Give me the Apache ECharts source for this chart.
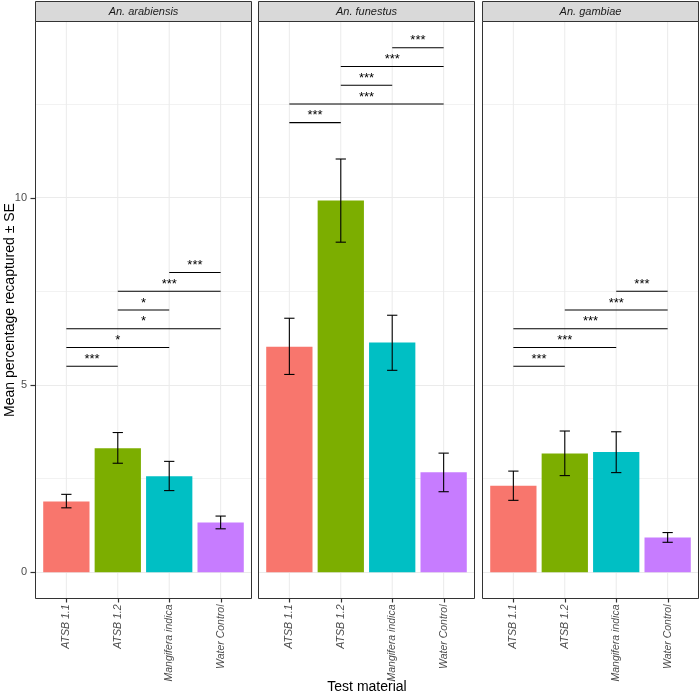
<!DOCTYPE html>
<html>
<head>
<meta charset="utf-8">
<script src="https://cdn.jsdelivr.net/npm/echarts@6/dist/echarts.min.js"></script>
<style>html,body{margin:0;padding:0;background:#fff}#c{width:700px;height:696px}</style>
</head>
<body>
<div id="c"></div>
<script>
// ---- data ----
const categories = ['ATSB 1.1', 'ATSB 1.2', 'Mangifera indica', 'Water Control'];
const species = ['An. arabiensis', 'An. funestus', 'An. gambiae'];
const barColors = ['#F8766D', '#7CAE00', '#00BFC4', '#C77CFF'];

const meanArabiensis = [1.89, 3.31, 2.56, 1.33];
const lowArabiensis  = [1.72, 2.91, 2.18, 1.16];
const highArabiensis = [2.08, 3.73, 2.96, 1.50];

const meanFunestus = [6.02, 9.92, 6.13, 2.67];
const lowFunestus  = [5.28, 8.81, 5.39, 2.15];
const highFunestus = [6.78, 11.03, 6.86, 3.18];

const meanGambiae = [2.31, 3.17, 3.21, 0.93];
const lowGambiae  = [1.92, 2.58, 2.66, 0.80];
const highGambiae = [2.70, 3.77, 3.75, 1.06];

// significance brackets: from category index, to category index, height, label
const sigArabiensisFrom  = [0, 0, 0, 1, 1, 2];
const sigArabiensisTo    = [1, 2, 3, 2, 3, 3];
const sigArabiensisY     = [5.5, 6.0, 6.5, 7.0, 7.5, 8.0];
const sigArabiensisLabel = ['***', '*', '*', '*', '***', '***'];

const sigFunestusFrom  = [0, 0, 1, 1, 2];
const sigFunestusTo    = [1, 3, 2, 3, 3];
const sigFunestusY     = [12.0, 12.5, 13.0, 13.5, 14.0];
const sigFunestusLabel = ['***', '***', '***', '***', '***'];

const sigGambiaeFrom  = [0, 0, 0, 1, 2];
const sigGambiaeTo    = [1, 2, 3, 3, 3];
const sigGambiaeY     = [5.5, 6.0, 6.5, 7.0, 7.5];
const sigGambiaeLabel = ['***', '***', '***', '***', '***'];

const yTickValues = [0, 5, 10];
const yMin = -0.7, yMax = 14.7;

// ---- layout ----
const FONT = '"Liberation Sans", Arial, Helvetica, sans-serif';
const PL = [35.5, 258.5, 482.5];
const PW = 216, TOP = 21.5, PH = 577;
const INSET = PW * 0.1 / 4.2;

const panels = [
  {mean: meanArabiensis, low: lowArabiensis, high: highArabiensis,
   from: sigArabiensisFrom, to: sigArabiensisTo, y: sigArabiensisY, lab: sigArabiensisLabel},
  {mean: meanFunestus, low: lowFunestus, high: highFunestus,
   from: sigFunestusFrom, to: sigFunestusTo, y: sigFunestusY, lab: sigFunestusLabel},
  {mean: meanGambiae, low: lowGambiae, high: highGambiae,
   from: sigGambiaeFrom, to: sigGambiaeTo, y: sigGambiaeY, lab: sigGambiaeLabel}
];

const grid = [], xAxis = [], yAxis = [], series = [], graphic = [];

panels.forEach((p, i) => {
  const bg = 2 * i, dg = 2 * i + 1;
  grid.push({left: PL[i], top: TOP, width: PW, height: PH, show: true,
             backgroundColor: '#ffffff', borderWidth: 0});
  grid.push({left: PL[i] + INSET, top: TOP, width: PW - 2 * INSET, height: PH});

  xAxis.push({gridIndex: bg, type: 'value', min: -0.6, max: 3.6, show: false,
    axisLine: {onZero: false}});
  xAxis.push({gridIndex: dg, type: 'category', data: categories, boundaryGap: true,
    position: 'bottom',
    axisLine: {show: false, onZero: false},
    axisTick: {show: false},
    axisLabel: {rotate: 90, fontStyle: 'italic', color: '#4d4d4d', fontSize: 10.5, margin: 6, fontFamily: FONT},
    splitLine: {show: false}});

  yAxis.push({gridIndex: bg, type: 'value', min: yMin, max: yMax, splitNumber: 3,
    position: 'left',
    axisLine: {show: false, onZero: false},
    axisTick: {show: false},
    axisLabel: {show: i === 0, color: '#4d4d4d', fontSize: 11, margin: 8.5, fontFamily: FONT,
      customValues: yTickValues},
    splitLine: {show: true, lineStyle: {color: '#ebebeb', width: 1}},
    minorTick: {show: false, splitNumber: 2},
    minorSplitLine: {show: true, lineStyle: {color: '#f2f2f2', width: 1}}});
  yAxis.push({gridIndex: dg, type: 'value', min: yMin, max: yMax, show: false,
    axisLine: {onZero: false}});

  // vertical grid lines at category centres
  series.push({type: 'custom', xAxisIndex: dg, yAxisIndex: dg, z: 1, silent: true,
    data: categories.map((c, k) => [k]),
    encode: {x: 0},
    renderItem: (params, api) => {
      const pt = api.coord([api.value(0), 0]);
      const cs = params.coordSys;
      return {type: 'line', shape: {x1: pt[0], y1: cs.y, x2: pt[0], y2: cs.y + cs.height},
              style: {stroke: '#ebebeb', lineWidth: 1}};
    }});

  // bars
  series.push({type: 'bar', xAxisIndex: dg, yAxisIndex: dg, z: 2, barWidth: '90%',
    data: p.mean.map((v, k) => ({value: v, itemStyle: {color: barColors[k]}}))});

  // error bars
  series.push({type: 'custom', xAxisIndex: dg, yAxisIndex: dg, z: 3, silent: true,
    data: categories.map((c, k) => [k, p.low[k], p.high[k]]),
    encode: {x: 0, y: [1, 2]},
    renderItem: (params, api) => {
      const x = api.value(0);
      const lo = api.coord([x, api.value(1)]);
      const hi = api.coord([x, api.value(2)]);
      const hw = api.size([1, 0])[0] * 0.2 / 2;
      const st = {stroke: '#000000', lineWidth: 1.1};
      return {type: 'group', children: [
        {type: 'line', shape: {x1: lo[0], y1: lo[1], x2: hi[0], y2: hi[1]}, style: st},
        {type: 'line', shape: {x1: lo[0] - hw, y1: lo[1], x2: lo[0] + hw, y2: lo[1]}, style: st},
        {type: 'line', shape: {x1: hi[0] - hw, y1: hi[1], x2: hi[0] + hw, y2: hi[1]}, style: st}
      ]};
    }});

  // significance brackets
  series.push({type: 'custom', xAxisIndex: dg, yAxisIndex: dg, z: 3, silent: true,
    data: p.from.map((f, k) => [f, p.to[k], p.y[k]]),
    encode: {x: [0, 1], y: 2},
    renderItem: (params, api) => {
      const a = api.coord([api.value(0), api.value(2)]);
      const b = api.coord([api.value(1), api.value(2)]);
      const lab = p.lab[params.dataIndex];
      return {type: 'group', children: [
        {type: 'line', shape: {x1: a[0], y1: a[1], x2: b[0], y2: b[1]},
         style: {stroke: '#000000', lineWidth: 1.1}},
        {type: 'text', x: (a[0] + b[0]) / 2, y: a[1] - 0.5,
         style: {text: lab, align: 'center', verticalAlign: 'bottom',
                 font: '13px ' + FONT, fill: '#000000'}}
      ]};
    }});

  // panel border
  graphic.push({type: 'rect', shape: {x: PL[i], y: TOP, width: PW, height: PH},
    style: {fill: 'none', stroke: '#333333', lineWidth: 1}, z: 10, silent: true});
  // strip
  graphic.push({type: 'rect', shape: {x: PL[i], y: 1.5, width: PW, height: TOP - 1.5},
    style: {fill: '#d9d9d9', stroke: '#333333', lineWidth: 1}, z: 10});
  graphic.push({type: 'text', x: PL[i] + PW / 2, y: (1.5 + TOP) / 2 + 0.5,
    style: {text: species[i], align: 'center', verticalAlign: 'middle',
            font: 'italic 11px ' + FONT, fill: '#1a1a1a'}, z: 11});
});

graphic.push({type: 'text', x: 10, y: TOP + PH / 2, rotation: Math.PI / 2,
  style: {text: 'Mean percentage recaptured ± SE', align: 'center', verticalAlign: 'middle',
          font: '14px ' + FONT, fill: '#000000'}});
graphic.push({type: 'text', x: (PL[0] + PL[2] + PW) / 2, y: 687,
  style: {text: 'Test material', align: 'center', verticalAlign: 'middle',
          font: '14px ' + FONT, fill: '#000000'}});

const chart = echarts.init(document.getElementById('c'), null, {renderer: 'canvas'});
chart.setOption({animation: false, backgroundColor: '#ffffff',
  grid, xAxis, yAxis, series, graphic});

// tick marks, positioned through the axes' own scales
const tickStyle = {stroke: '#333333', lineWidth: 1.2};
const ticks = [];
yTickValues.forEach(v => {
  const y = Math.round(chart.convertToPixel({xAxisIndex: 0, yAxisIndex: 0}, [0, v])[1]) + 0.5;
  ticks.push({type: 'line', shape: {x1: PL[0] - 5, y1: y, x2: PL[0], y2: y}, style: tickStyle, z: 12});
});
panels.forEach((p, i) => {
  categories.forEach((c, k) => {
    const x = Math.round(chart.convertToPixel({xAxisIndex: 2 * i + 1, yAxisIndex: 2 * i + 1}, [k, 0])[0]) + 0.5;
    ticks.push({type: 'line', shape: {x1: x, y1: TOP + PH, x2: x, y2: TOP + PH + 4}, style: tickStyle, z: 12});
  });
});
chart.setOption({graphic: graphic.concat(ticks)});
</script>
</body>
</html>
